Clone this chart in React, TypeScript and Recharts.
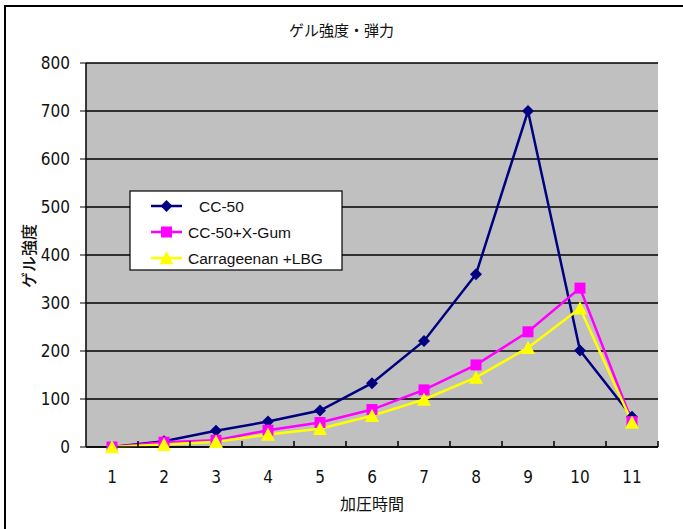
import { LineChart, Line, XAxis, YAxis, CartesianGrid } from "recharts";

const categories = ["1", "2", "3", "4", "5", "6", "7", "8", "9", "10", "11"];
const cc50 = [0, 12, 34, 53, 76, 133, 221, 360, 700, 201, 63];
const xGum = [0, 10, 14, 35, 51, 78, 119, 171, 240, 331, 53];
const carrageenan = [0, 5, 11, 26, 38, 65, 99, 145, 207, 289, 51];
const yTicks = [0, 100, 200, 300, 400, 500, 600, 700, 800];

const data = categories.map((c, i) => ({
  cat: c,
  cc50: cc50[i],
  xGum: xGum[i],
  carrageenan: carrageenan[i],
}));

const jpFont = "'Noto Sans CJK JP', sans-serif";
const numFont = "'Liberation Sans Narrow', 'DejaVu Sans Condensed', sans-serif";
const HALF_BAND = 26;

const Diamond = ({ cx, cy, fill }: any) => {
  if (cx == null || cy == null) return null;
  const r = 6;
  return <path d={`M${cx},${cy - r}L${cx + r},${cy}L${cx},${cy + r}L${cx - r},${cy}Z`} fill={fill} />;
};

const Square = ({ cx, cy, fill }: any) => {
  if (cx == null || cy == null) return null;
  const r = 5.5;
  return <rect x={cx - r} y={cy - r} width={r * 2} height={r * 2} fill={fill} />;
};

const Triangle = ({ cx, cy, fill }: any) => {
  if (cx == null || cy == null) return null;
  const r = 7;
  return <path d={`M${cx},${cy - r}L${cx + r},${cy + r * 0.9}L${cx - r},${cy + r * 0.9}Z`} fill={fill} />;
};

const series = [
  { key: "cc50", name: "CC-50", color: "#000080", Shape: Diamond, indent: 11 },
  { key: "xGum", name: "CC-50+X-Gum", color: "#FF00FF", Shape: Square, indent: 0 },
  { key: "carrageenan", name: "Carrageenan +LBG", color: "#FFFF00", Shape: Triangle, indent: 0 },
];

const XTick = ({ x, y, payload }: any) => (
  <g>
    <line x1={x + HALF_BAND} y1={y - 6} x2={x + HALF_BAND} y2={y} stroke="#000" strokeWidth={1.5} />
    <text x={x} y={y + 30} dy="0.355em" textAnchor="middle" fontFamily={numFont} fontSize={17} fill="#111">
      {payload.value}
    </text>
  </g>
);

const LegendBox = () => (
  <svg width={215} height={82} style={{ display: "block" }}>
    <rect x={1} y={1} width={212} height={79} fill="#fff" stroke="#000" strokeWidth={1.2} />
    {series.map((s, i) => {
      const cy = 16 + i * 26;
      return (
        <g key={s.key}>
          <line x1={22} y1={cy} x2={53} y2={cy} stroke={s.color} strokeWidth={2.5} />
          <s.Shape cx={37.5} cy={cy} fill={s.color} />
          <text
            x={59 + s.indent}
            y={cy}
            dy="0.355em"
            fontFamily="'Liberation Sans', Arial, sans-serif"
            fontSize={15.5}
            fill="#111"
          >
            {s.name}
          </text>
        </g>
      );
    })}
  </svg>
);

export default function App() {
  return (
    <div style={{ position: "absolute", left: 0, top: 0, width: 683, height: 529, background: "#fff" }}>
      <div
        style={{
          position: "absolute",
          left: 4,
          top: 5,
          right: -4,
          bottom: -4,
          borderLeft: "2px solid #000",
          borderTop: "2px solid #000",
        }}
      />
      <div
        style={{
          position: "absolute",
          left: 0,
          top: 30,
          width: 683,
          textAlign: "center",
          fontFamily: jpFont,
          fontSize: 15,
          lineHeight: "0px",
          color: "#111",
        }}
      >
        ゲル強度・弾力
      </div>
      <div
        style={{
          position: "absolute",
          left: 86,
          top: 503,
          width: 572,
          textAlign: "center",
          fontFamily: jpFont,
          fontSize: 16,
          lineHeight: "0px",
          color: "#111",
        }}
      >
        加圧時間
      </div>
      <div
        style={{
          position: "absolute",
          left: 28,
          top: 256,
          transform: "translate(-50%, -50%) rotate(-90deg)",
          fontFamily: jpFont,
          fontSize: 16,
          fontWeight: 500,
          color: "#111",
          whiteSpace: "nowrap",
        }}
      >
        ゲル強度
      </div>
      <div style={{ position: "absolute", left: 0, top: 0 }}>
        <LineChart width={683} height={529} data={data} margin={{ top: 63, right: 25, bottom: 0, left: 0 }}>
          <CartesianGrid vertical={false} stroke="#000" strokeWidth={1.5} fill="#C0C0C0" fillOpacity={1} />
          <XAxis
            dataKey="cat"
            padding={{ left: HALF_BAND, right: HALF_BAND }}
            axisLine={{ stroke: "#000", strokeWidth: 1.5 }}
            tickLine={false}
            tickSize={0}
            tickMargin={0}
            tick={<XTick />}
            interval={0}
            height={82}
          />
          <XAxis xAxisId="top" orientation="top" dataKey="cat" height={0} tick={false} tickLine={false} axisLine={{ stroke: "#808080", strokeWidth: 1.5 }} />
          <YAxis
            domain={[0, 800]}
            ticks={yTicks}
            width={86}
            axisLine={{ stroke: "#000", strokeWidth: 1.5 }}
            tickLine={{ stroke: "#000" }}
            tickSize={6}
            tickMargin={10}
            tick={{ fontFamily: numFont, fontSize: 17, fill: "#111" }}
          />
          <YAxis yAxisId="right" orientation="right" width={0} domain={[0, 800]} tick={false} tickLine={false} axisLine={{ stroke: "#808080", strokeWidth: 1.5 }} />
          {series.map((s) => (
            <Line
              key={s.key}
              dataKey={s.key}
              name={s.name}
              stroke={s.color}
              strokeWidth={2.5}
              dot={<s.Shape fill={s.color} />}
              activeDot={false}
              isAnimationActive={false}
            />
          ))}
        </LineChart>
      </div>
      <div style={{ position: "absolute", left: 129, top: 190 }}>
        <LegendBox />
      </div>
    </div>
  );
}
